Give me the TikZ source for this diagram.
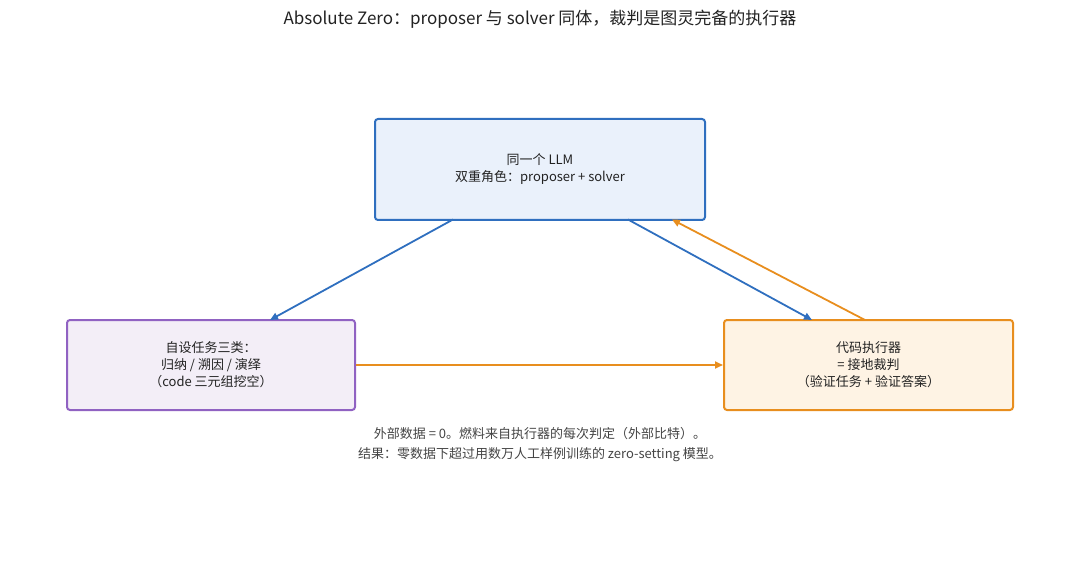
\documentclass[tikz,border=0pt]{standalone}
\usepackage{fontspec}
\setmainfont{Noto Sans CJK SC}
\usetikzlibrary{arrows.meta}
\definecolor{cblue}{HTML}{2F6FBF}
\definecolor{fblue}{HTML}{EAF1FB}
\definecolor{cpur}{HTML}{9062C2}
\definecolor{fpur}{HTML}{F3EEF7}
\definecolor{corg}{HTML}{E88E1E}
\definecolor{forg}{HTML}{FEF3E4}
\definecolor{ctext}{HTML}{222222}
\definecolor{cnote}{HTML}{444444}
\tikzset{
  box/.style={draw, line width=2pt, rounded corners=3pt, align=center, font=\fontsize{13}{17}\selectfont, text=ctext},
  arr/.style={line width=1.8pt, -{Triangle[length=8pt,width=7pt]}},
}
\begin{document}
\begin{tikzpicture}[x=1pt,y=-1pt]
\useasboundingbox (0,0) rectangle (1080,575);
\node[font=\fontsize{17}{20}\selectfont, text=ctext] (title) at (540,19) {Absolute Zero：proposer 与 solver 同体，裁判是图灵完备的执行器};
\node[box, draw=cblue, fill=fblue, minimum width=330pt, minimum height=101pt] (llm) at (540,169.5) {同一个 LLM\\双重角色：proposer + solver};
\node[box, draw=cpur, fill=fpur, minimum width=288pt, minimum height=90pt] (task) at (211,365) {自设任务三类：\\归纳 / 溯因 / 演绎\\（code 三元组挖空）};
\node[box, draw=corg, fill=forg, minimum width=289pt, minimum height=90pt] (exec) at (868.5,365) {代码执行器\\= 接地裁判\\（验证任务 + 验证答案）};
\coordinate (a1) at (453,219.5);
\coordinate (a2) at (270,320);
\coordinate (b1) at (628,219.5);
\coordinate (b2) at (812,320);
\coordinate (c1) at (865,320);
\coordinate (c2) at (672,219.5);
\draw[arr, cblue] (a1) -- (a2);
\draw[arr, cblue] (b1) -- (b2);
\draw[arr, corg] (c1) -- (c2);
\draw[arr, corg] (task.east) -- (exec.west);
\node[font=\fontsize{13}{20}\selectfont, text=cnote, align=center] (note) at (540,445) {外部数据 = 0。燃料来自执行器的每次判定（外部比特）。\\结果：零数据下超过用数万人工样例训练的 zero-setting 模型。};
\end{tikzpicture}
\end{document}
